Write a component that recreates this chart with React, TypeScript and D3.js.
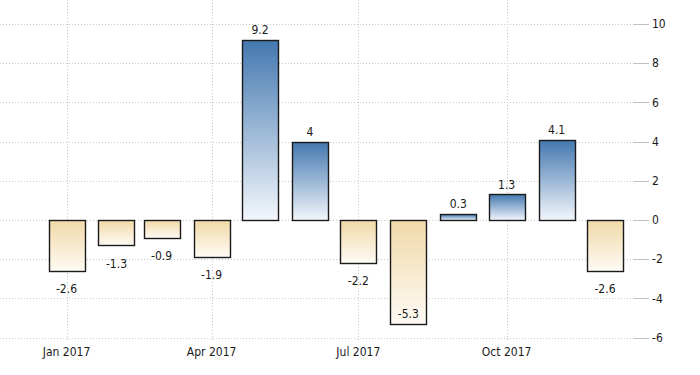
import React, { useEffect, useRef } from 'react';
import * as d3 from 'd3';

// monthly values, 2017
const months = ['2017-01', '2017-02', '2017-03', '2017-04', '2017-05', '2017-06',
  '2017-07', '2017-08', '2017-09', '2017-10', '2017-11', '2017-12'];
const values = [-2.6, -1.3, -0.9, -1.9, 9.2, 4, -2.2, -5.3, 0.3, 1.3, 4.1, -2.6];
const yTicks = [-6, -4, -2, 0, 2, 4, 6, 8, 10];
const xTickMonths = ['2017-01', '2017-04', '2017-07', '2017-10'];

const W = 700;
const H = 375;
const FONT = "'DejaVu Sans Condensed', 'Liberation Sans Narrow', 'Arial Narrow', sans-serif";

const App = () => {
  const ref = useRef<SVGSVGElement>(null);

  useEffect(() => {
    const svg = d3.select(ref.current);
    svg.selectAll('*').remove();

    const parse = d3.timeParse('%Y-%m');
    const dates = months.map(m => parse(m) as Date);

    const x = d3.scaleTime()
      .domain([dates[0], dates[dates.length - 1]])
      .range([66.5, 605]);
    const y = d3.scaleLinear().domain([-6, 10]).range([337.5, 24]);
    const barW = 36;
    const plotRight = 633;

    const defs = svg.append('defs');
    const blue = defs.append('linearGradient').attr('id', 'gBlue')
      .attr('x1', 0).attr('y1', 0).attr('x2', 0).attr('y2', 1);
    blue.append('stop').attr('offset', '0%').attr('stop-color', '#4478b0');
    blue.append('stop').attr('offset', '100%').attr('stop-color', '#f3f7fc');
    const tan = defs.append('linearGradient').attr('id', 'gTan')
      .attr('x1', 0).attr('y1', 0).attr('x2', 0).attr('y2', 1);
    tan.append('stop').attr('offset', '0%').attr('stop-color', '#f1d9a8');
    tan.append('stop').attr('offset', '100%').attr('stop-color', '#fefbf5');

    // horizontal grid
    svg.append('g').selectAll('line').data(yTicks).join('line')
      .attr('x1', 0).attr('x2', plotRight)
      .attr('y1', d => Math.round(y(d)) + 0.5).attr('y2', d => Math.round(y(d)) + 0.5)
      .attr('stroke', '#c8c8c8').attr('stroke-dasharray', '1,2');

    // tick marks + labels on the right
    const yAxis = svg.append('g');
    yAxis.selectAll('line').data(yTicks).join('line')
      .attr('x1', plotRight).attr('x2', 649)
      .attr('y1', d => Math.round(y(d)) + 0.5).attr('y2', d => Math.round(y(d)) + 0.5)
      .attr('stroke', '#c0c0c0');
    yAxis.selectAll('text').data(yTicks).join('text')
      .attr('x', 652).attr('y', d => y(d)).attr('dy', '0.35em')
      .attr('font-family', FONT).attr('font-size', 12).attr('fill', '#1a1a1a')
      .text(d => d);

    // vertical grid + x labels
    const xd = xTickMonths.map(m => parse(m) as Date);
    svg.append('g').selectAll('line').data(xd).join('line')
      .attr('x1', d => Math.round(x(d)) + 0.5).attr('x2', d => Math.round(x(d)) + 0.5)
      .attr('y1', 0).attr('y2', 342)
      .attr('stroke', '#c8c8c8').attr('stroke-dasharray', '1,2');
    svg.append('g').selectAll('text').data(xd).join('text')
      .attr('x', d => x(d)).attr('y', 356)
      .attr('text-anchor', 'middle')
      .attr('font-family', FONT).attr('font-size', 12).attr('fill', '#1a1a1a')
      .text(d => d3.timeFormat('%b %Y')(d));

    // bars
    const bars = svg.append('g');
    bars.selectAll('rect').data(values).join('rect')
      .attr('x', (d, i) => Math.round(x(dates[i]) - barW / 2) + 0.5)
      .attr('y', d => Math.round(y(Math.max(0, d))) + 0.5)
      .attr('width', barW)
      .attr('height', d => Math.abs(Math.round(y(d)) - Math.round(y(0))))
      .attr('fill', d => d >= 0 ? 'url(#gBlue)' : 'url(#gTan)')
      .attr('stroke', '#1a1a1a').attr('stroke-width', 1.4);

    // value labels, the one that would fall off the bottom goes inside the bar
    bars.selectAll('text').data(values).join('text')
      .attr('x', (d, i) => x(dates[i]))
      .attr('y', d => {
        if (d >= 0) return y(d) - 10;
        const below = y(d) + 18;
        return below > 330 ? y(d) - 10 : below;
      })
      .attr('dy', '0.35em')
      .attr('text-anchor', 'middle')
      .attr('font-family', FONT).attr('font-size', 12).attr('fill', '#1a1a1a')
      .text(d => d);
  }, []);

  return (
    <svg ref={ref} width={W} height={H}
      style={{ position: 'absolute', left: 0, top: 0, background: '#fff' }} />
  );
};

export default App;
